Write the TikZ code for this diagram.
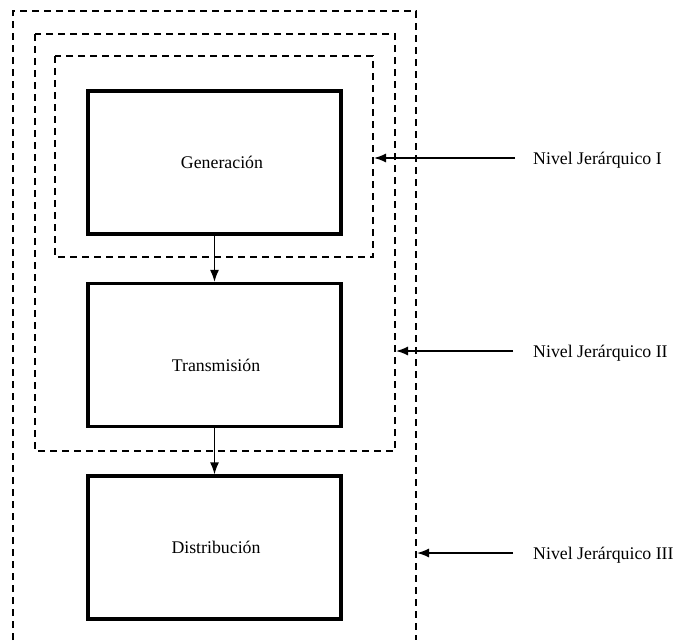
\documentclass[tikz,border=0pt]{standalone}
\usepackage{fontspec}
\setmainfont{Liberation Serif}
\usetikzlibrary{arrows.meta}
\begin{document}
\begin{tikzpicture}[x=1pt,y=-1pt,
  stage/.style={draw,line width=3.2pt,minimum width=253pt,minimum height=143pt,
    inner sep=0pt},
  caption/.style={inner sep=0pt,font=\fontsize{17.8}{21}\selectfont},
  level/.style={draw,line width=2pt,dash pattern=on 7pt off 5pt},
  flow/.style={line width=1.4pt,-{Latex[length=12pt,width=9pt]}},
  tag/.style={anchor=west,inner sep=0pt,font=\fontsize{17.8}{21}\selectfont}]
\useasboundingbox (0,0) rectangle (676,640);
% process stages
\node[stage] (gen) at (214.5,162.5) {};
\node[stage] (tra) at (214.5,355) {};
\node[stage] (dis) at (214.5,547.5) {};
\node[caption] (gent) at (222,162.5) {Generación};
\node[caption] (trat) at (216,365) {Transmisión};
\node[caption] (dist) at (216,547) {Distribución};
\draw[flow] (gen.south) -- (tra.north);
\draw[flow] (tra.south) -- (dis.north);
% hierarchy boundaries
\draw[level] (55,56) rectangle (373,257);
\draw[level] (35,34) rectangle (395,451);
\draw[level] (13,640) -- (13,11) -- (416,11) -- (416,640);
\coordinate (b1) at (374,158);
\coordinate (b2) at (396,351);
\coordinate (b3) at (417,553);
\coordinate (s1) at (515,158);
\coordinate (s2) at (513,351);
\coordinate (s3) at (513,553);
% level labels
\node[tag] (l1) at (533,160) {Nivel Jerárquico I};
\node[tag] (l2) at (533,353) {Nivel Jerárquico II};
\node[tag] (l3) at (533,555) {Nivel Jerárquico III};
\draw[flow] (s1) -- (b1);
\draw[flow] (s2) -- (b2);
\draw[flow] (s3) -- (b3);
\end{tikzpicture}
\end{document}
